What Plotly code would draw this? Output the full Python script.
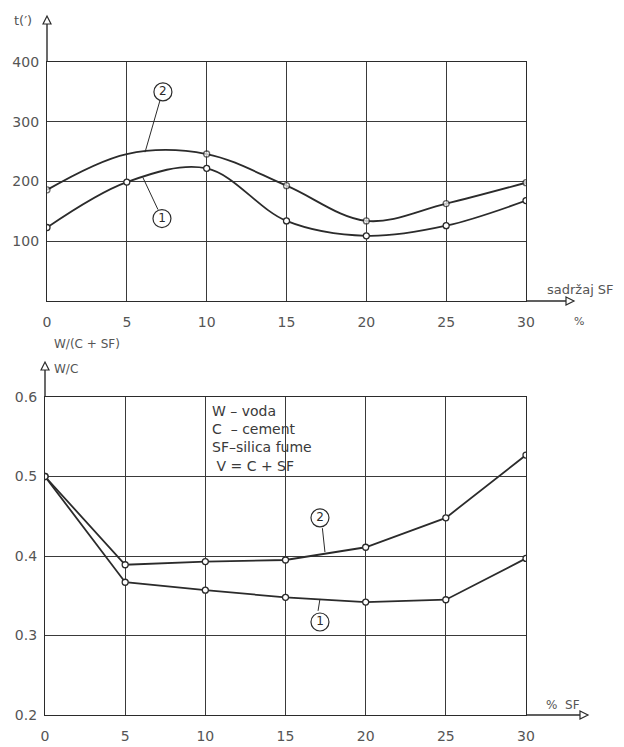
import plotly.graph_objects as go

# ---- data ----
sf_pct = [0, 5, 10, 15, 20, 25, 30]
t_curve1 = [123, 199, 222, 134, 109, 126, 168]
t_curve2 = [186, 246, 246, 193, 134, 163, 198]
wc_curve1 = [0.500, 0.367, 0.357, 0.348, 0.342, 0.345, 0.397]
wc_curve2 = [0.500, 0.389, 0.393, 0.395, 0.411, 0.448, 0.527]
t_ticks = [100, 200, 300, 400]
wc_ticks = [0.2, 0.3, 0.4, 0.5, 0.6]
x_ticks = [0, 5, 10, 15, 20, 25, 30]
legend_lines = ["W – voda", "C  – cement", "SF–silica fume", " V = C + SF"]

W, H = 624, 747
LINE = "#2b2b2b"
GRID = "#3a3a3a"
TXT = "#555555"
FONT = "DejaVu Sans"

def X(px):
    return px / W

def Y(py):
    return 1 - py / H

fig = go.Figure()

mk = dict(symbol="circle", size=6, color="white", line=dict(color=LINE, width=1.3))

# top chart
fig.add_trace(go.Scatter(x=sf_pct, y=t_curve1, mode="lines+markers", line=dict(color=LINE, width=1.8, shape="spline"),
                         marker=mk, xaxis="x", yaxis="y", showlegend=False))
mk2 = dict(mk)
mk2["size"] = [6, 0, 6, 6, 6, 6, 6]
fig.add_trace(go.Scatter(x=sf_pct, y=t_curve2, mode="lines+markers", line=dict(color=LINE, width=1.8, shape="spline"),
                         marker=mk2, xaxis="x", yaxis="y", showlegend=False))
# bottom chart
fig.add_trace(go.Scatter(x=sf_pct, y=wc_curve1, mode="lines+markers", line=dict(color=LINE, width=1.8),
                         marker=mk, xaxis="x2", yaxis="y2", showlegend=False))
fig.add_trace(go.Scatter(x=sf_pct, y=wc_curve2, mode="lines+markers", line=dict(color=LINE, width=1.8),
                         marker=mk, xaxis="x2", yaxis="y2", showlegend=False))

# circled curve labels
circ = dict(symbol="circle-open", size=18, color=LINE, line=dict(width=1.2))
fig.add_trace(go.Scatter(x=[7.26, 7.2], y=[350, 138], mode="markers+text", text=["2", "1"],
                         textposition="middle center", textfont=dict(family=FONT, size=12, color=LINE),
                         marker=circ, xaxis="x", yaxis="y", showlegend=False, cliponaxis=False))
fig.add_trace(go.Scatter(x=[17.15, 17.15], y=[0.448, 0.317], mode="markers+text", text=["2", "1"],
                         textposition="middle center", textfont=dict(family=FONT, size=12, color=LINE),
                         marker=circ, xaxis="x2", yaxis="y2", showlegend=False, cliponaxis=False))

shapes = []
# leader lines
shapes.append(dict(type="line", xref="x", yref="y", x0=7.08, y0=336, x1=6.14, y1=249, line=dict(color=LINE, width=1)))
shapes.append(dict(type="line", xref="x", yref="y", x0=6.95, y0=153, x1=6.0, y1=207, line=dict(color=LINE, width=1)))
shapes.append(dict(type="line", xref="x2", yref="y2", x0=17.3, y0=0.435, x1=17.46, y1=0.405, line=dict(color=LINE, width=1)))
shapes.append(dict(type="line", xref="x2", yref="y2", x0=17.03, y0=0.331, x1=17.15, y1=0.346, line=dict(color=LINE, width=1)))

# axis extensions with open arrowheads (paper coordinates from pixels)
def hline_arrow(x0, x1, y):
    shapes.append(dict(type="line", xref="paper", yref="paper", x0=X(x0), y0=Y(y), x1=X(x1 - 8), y1=Y(y),
                       line=dict(color=LINE, width=1.4)))
    shapes.append(dict(type="path", xref="paper", yref="paper",
                       path=f"M {X(x1-8)} {Y(y-4)} L {X(x1)} {Y(y)} L {X(x1-8)} {Y(y+4)} Z",
                       line=dict(color=LINE, width=1.2), fillcolor="white"))

def vline_arrow(x, y0, y1):
    shapes.append(dict(type="line", xref="paper", yref="paper", x0=X(x), y0=Y(y0), x1=X(x), y1=Y(y1 + 8),
                       line=dict(color=LINE, width=1.4)))
    shapes.append(dict(type="path", xref="paper", yref="paper",
                       path=f"M {X(x-4)} {Y(y1+8)} L {X(x)} {Y(y1)} L {X(x+4)} {Y(y1+8)} Z",
                       line=dict(color=LINE, width=1.2), fillcolor="white"))

hline_arrow(526, 574, 301)
vline_arrow(47, 62, 16)
hline_arrow(526, 588, 715)
vline_arrow(45, 397, 362)

annotations = []
def txt(x, y, s, size=13, xanchor="left", color=TXT):
    annotations.append(dict(x=x, y=y, xref="paper", yref="paper", text=s, showarrow=False, xanchor=xanchor,
                            yanchor="middle", align="left", font=dict(family=FONT, size=size, color=color)))

txt(X(12), Y(20), "t(′)", size=13)
txt(X(545), Y(290), "sadržaj SF", size=13)
txt(X(572), Y(321), "%", size=11)
txt(X(52), Y(344), "W/(C + SF)", size=12)
txt(X(52), Y(369), "W/C", size=12)
txt(X(544), Y(705), "%  SF", size=12)

txt(X(210), Y(438), "<br>".join(legend_lines), size=14, color="#3a3a3a")

fig.update_layout(shapes=shapes, annotations=annotations)

axis_common = dict(showgrid=True, gridcolor=GRID, gridwidth=1, showline=True, mirror=True, linecolor=LINE,
                   linewidth=1.3, zeroline=False, ticks="", automargin=False,
                   tickfont=dict(family=FONT, size=14, color=TXT))

fig.update_layout(
    width=W, height=H,
    margin=dict(l=0, r=0, t=0, b=0),
    paper_bgcolor="white", plot_bgcolor="white",
    xaxis=dict(domain=[X(47), X(526)], range=[0, 30], tickvals=x_ticks, anchor="y",
               ticklabelstandoff=8, **axis_common),
    yaxis=dict(domain=[Y(301), Y(62)], range=[0, 400], tickvals=t_ticks, anchor="x",
               ticklabelstandoff=4, **axis_common),
    xaxis2=dict(domain=[X(45), X(526)], range=[0, 30], tickvals=x_ticks, anchor="y2",
                ticklabelstandoff=8, **axis_common),
    yaxis2=dict(domain=[Y(715), Y(397)], range=[0.2, 0.6], tickvals=wc_ticks, tickformat=".1f", anchor="x2",
                ticklabelstandoff=4, **axis_common),
)

fig.write_html("out.html", config={"displayModeBar": False},
               post_script="document.body.style.margin='0';document.body.style.overflow='hidden';")
